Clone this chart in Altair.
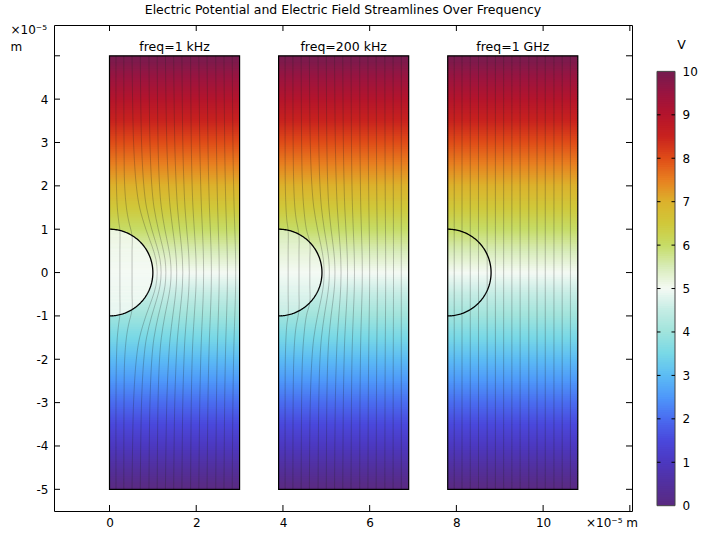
import altair as alt
import numpy as np
import pandas as pd

# ---------------- data ----------------
chart_title = "Electric Potential and Electric Field Streamlines Over Frequency"
panel_titles = ["freq=1 kHz", "freq=200 kHz", "freq=1 GHz"]
panel_left = [0.0, 3.9, 7.8]          # x of each domain's left edge (1e-5 m)
panel_width = 3.0
panel_bottom, panel_top = -5.0, 5.0
# potential inside the sphere (V) at its top and bottom
sphere_V_top = [5.05, 5.45, 6.0]
sphere_V_bottom = [4.95, 4.55, 4.0]

# colour table (V -> colour)
cmap_V = [0, 0.5, 1, 1.5, 2, 2.5, 3, 3.5, 4, 4.5, 5, 5.5, 6, 6.5, 7, 7.5, 8, 8.5, 9, 9.5, 10]
cmap_colors = ["#5a2a80", "#52309e", "#4c38c0", "#4a48dc", "#4a6cf0", "#4e98fa",
               "#5cbcf4", "#78d8e6", "#a0e4dc", "#c4ece4", "#f4faf4", "#d8ecb8",
               "#c6dc66", "#d0c83a", "#dcb22c", "#e88020", "#e04c18", "#c8221e",
               "#b4142c", "#9a1440", "#741c50"]

x_tick_values = [0, 2, 4, 6, 8, 10, 12]
x_label_values = [0, 2, 4, 6, 8, 10]
y_tick_values = [-5, -4, -3, -2, -1, 0, 1, 2, 3, 4, 5]
y_label_values = [-5, -4, -3, -2, -1, 0, 1, 2, 3, 4]
cbar_tick_values = [1, 2, 3, 4, 5, 6, 7, 8, 9]
cbar_label_values = [0, 1, 2, 3, 4, 5, 6, 7, 8, 9, 10]

# streamlines: x (relative to the domain's left edge) at these heights (upper half, mirrored below)
stream_y_levels = [5.0, 3.0, 2.0, 1.5, 1.0, 0.6, 0.3, 0.0]
stream_far_x = [0.15, 0.33, 0.52, 0.71, 0.91, 1.10, 1.29, 1.48, 1.67, 1.87, 2.06, 2.25, 2.45, 2.64, 2.83]

p1_enter_y = [[5.0, 3.0, 2.0, 1.5, 1.2, 0.97, 0.5, 0.0],
              [5.0, 3.0, 2.0, 1.5, 1.2, 0.85, 0.5, 0.0]]
p1_enter_x = [[0.15, 0.15, 0.16, 0.18, 0.21, 0.24, 0.24, 0.24],
              [0.33, 0.335, 0.35, 0.39, 0.44, 0.52, 0.52, 0.52]]
p1_around_x = [
    [0.52, 0.555, 0.619, 0.694, 0.839, 0.984, 1.071, 1.10],
    [0.71, 0.739, 0.792, 0.854, 0.974, 1.094, 1.166, 1.19],
    [0.91, 0.933, 0.976, 1.027, 1.125, 1.222, 1.281, 1.30],
    [1.10, 1.119, 1.154, 1.196, 1.276, 1.356, 1.404, 1.42],
    [1.29, 1.321, 1.363, 1.399, 1.459, 1.511, 1.540, 1.55],
    [1.48, 1.505, 1.539, 1.568, 1.617, 1.659, 1.682, 1.69],
    [1.67, 1.690, 1.718, 1.741, 1.780, 1.815, 1.833, 1.84],
    [1.87, 1.886, 1.906, 1.925, 1.955, 1.980, 1.995, 2.00],
    [2.06, 2.082, 2.104, 2.120, 2.142, 2.159, 2.167, 2.17],
    [2.25, 2.270, 2.290, 2.305, 2.325, 2.340, 2.347, 2.35],
    [2.45, 2.466, 2.482, 2.494, 2.510, 2.522, 2.528, 2.53],
    [2.64, 2.656, 2.672, 2.684, 2.700, 2.712, 2.718, 2.72],
    [2.83, 2.846, 2.862, 2.874, 2.890, 2.902, 2.908, 2.91],
]
p2_enter_y = [[5.0, 3.0, 2.0, 1.5, 1.2, 0.975, 0.5, 0.0],
              [5.0, 3.0, 2.0, 1.5, 1.2, 0.88, 0.5, 0.0],
              [5.0, 3.0, 2.0, 1.5, 1.0, 0.69, 0.3, 0.0]]
p2_enter_x = [[0.15, 0.15, 0.155, 0.17, 0.19, 0.22, 0.22, 0.22],
              [0.33, 0.335, 0.35, 0.375, 0.41, 0.47, 0.47, 0.47],
              [0.52, 0.53, 0.55, 0.58, 0.64, 0.72, 0.72, 0.72]]
p2_around_x = [
    [0.71, 0.730, 0.768, 0.812, 0.897, 0.982, 1.033, 1.05],
    [0.91, 0.926, 0.954, 0.988, 1.053, 1.118, 1.157, 1.17],
    [1.10, 1.112, 1.134, 1.160, 1.210, 1.260, 1.290, 1.30],
    [1.29, 1.308, 1.332, 1.353, 1.388, 1.418, 1.434, 1.44],
    [1.48, 1.493, 1.511, 1.526, 1.552, 1.574, 1.586, 1.59],
    [1.67, 1.680, 1.692, 1.704, 1.722, 1.738, 1.747, 1.75],
    [1.87, 1.877, 1.887, 1.895, 1.909, 1.921, 1.928, 1.93],
    [2.06, 2.068, 2.076, 2.082, 2.090, 2.096, 2.099, 2.10],
    [2.25, 2.256, 2.262, 2.267, 2.273, 2.277, 2.279, 2.28],
    [2.45, 2.454, 2.458, 2.461, 2.465, 2.468, 2.469, 2.47],
    [2.64, 2.642, 2.644, 2.646, 2.648, 2.649, 2.650, 2.65],
    [2.83, 2.830, 2.830, 2.830, 2.830, 2.830, 2.830, 2.83],
]

# ---------------- tables built from the data ----------------
stream_rows = []


def add_line(panel, lid, ys_upper, xs_upper):
    pts = list(zip(xs_upper, ys_upper))
    lower = [(x, -y) for x, y in reversed(pts[:-1])]
    for i, (x, y) in enumerate(pts + lower):
        stream_rows.append({"line": f"{panel}-{lid}", "x": panel_left[panel] + x, "y": y, "i": i})


for k in range(len(p1_enter_x)):
    add_line(0, f"e{k}", p1_enter_y[k], p1_enter_x[k])
for k, xs_ in enumerate(p1_around_x):
    add_line(0, f"a{k}", stream_y_levels, xs_)
for k in range(len(p2_enter_x)):
    add_line(1, f"e{k}", p2_enter_y[k], p2_enter_x[k])
for k, xs_ in enumerate(p2_around_x):
    add_line(1, f"a{k}", stream_y_levels, xs_)
for k, x0 in enumerate(stream_far_x):
    add_line(2, f"s{k}", [5.0, 0.0], [x0, x0])
stream_df = pd.DataFrame(stream_rows)

# background potential strips (uniform field 0 V at bottom, 10 V at top)
step = 0.05
bg_rows = []
for pl in panel_left:
    for y in np.arange(panel_bottom, panel_top - 1e-9, step):
        bg_rows.append({"x1": pl, "x2": pl + panel_width, "y1": y,
                        "y2": min(y + step * 1.6, panel_top), "V": 5.0 + y + step / 2})
bg_df = pd.DataFrame(bg_rows)

# sphere interior strips
s_step = 0.01
sp_rows = []
for p, pl in enumerate(panel_left):
    for y in np.arange(-1.0, 1.0 - 1e-9, s_step):
        ym = y + s_step / 2
        w = float(np.sqrt(max(1.0 - ym * ym, 0.0)))
        V = sphere_V_bottom[p] + (sphere_V_top[p] - sphere_V_bottom[p]) * (ym + 1) / 2
        sp_rows.append({"x1": pl, "x2": pl + w, "y1": y, "y2": min(y + s_step * 1.6, 1.0), "V": V})
sp_df = pd.DataFrame(sp_rows)

# sphere outline (semicircle, radius 1)
ang = np.linspace(-np.pi / 2, np.pi / 2, 121)
ol_rows = []
for p, pl in enumerate(panel_left):
    for i, a in enumerate(ang):
        ol_rows.append({"panel": p, "i": i, "x": pl + float(np.cos(a)), "y": float(np.sin(a))})
ol_df = pd.DataFrame(ol_rows)

frame_df = pd.DataFrame({
    "x1": panel_left,
    "x2": [p + panel_width for p in panel_left],
    "xc": [p + panel_width / 2 for p in panel_left],
    "y1": [panel_bottom] * 3,
    "y2": [panel_top] * 3,
    "title": panel_titles,
})

# ---------------- chart ----------------
W, H = 578, 486
FONT = "DejaVu Sans"
xs = alt.Scale(domain=[-1.28, 12.05], nice=False, zero=False)
ys = alt.Scale(domain=[-5.50, 5.71], nice=False, zero=False)
cs = alt.Scale(domain=cmap_V, range=cmap_colors, interpolate="rgb")

x_axis = alt.Axis(values=x_label_values, ticks=False, tickSize=0, domain=False, grid=False,
                  labelPadding=6, labelFontSize=12, labelFont=FONT, labelColor="black",
                  labelOverlap=False, title=None)
y_axis = alt.Axis(values=y_label_values, ticks=False, tickSize=0, domain=False, grid=False,
                  labelPadding=6, labelFontSize=12, labelFont=FONT, labelColor="black",
                  labelOverlap=False, title=None,
                  labelExpr="datum.value < 0 ? '-' + (-datum.value) : '' + datum.value")


def X(f):
    return alt.X(f, scale=xs, axis=x_axis)


def Y(f):
    return alt.Y(f, scale=ys, axis=y_axis)


bg_layer = alt.Chart(bg_df).mark_rect(strokeWidth=0).encode(
    x=X("x1:Q"), x2="x2:Q", y=Y("y1:Q"), y2="y2:Q",
    color=alt.Color("V:Q", scale=cs, legend=None))

sp_layer = alt.Chart(sp_df).mark_rect(strokeWidth=0).encode(
    x=X("x1:Q"), x2="x2:Q", y=Y("y1:Q"), y2="y2:Q",
    color=alt.Color("V:Q", scale=cs, legend=None))

stream_layer = alt.Chart(stream_df).mark_line(
    interpolate="catmull-rom", color="#1e1e1e", strokeWidth=0.85, opacity=0.3
).encode(x=X("x:Q"), y=Y("y:Q"), detail="line:N", order="i:Q")

outline_layer = alt.Chart(ol_df).mark_line(color="black", strokeWidth=1.3).encode(
    x=X("x:Q"), y=Y("y:Q"), detail="panel:N", order="i:Q")

frame_layer = alt.Chart(frame_df).mark_rect(fill="transparent", stroke="black", strokeWidth=1.2).encode(
    x=X("x1:Q"), x2="x2:Q", y=Y("y1:Q"), y2="y2:Q")

ptitle_layer = alt.Chart(frame_df).mark_text(
    baseline="alphabetic", dy=-5, fontSize=12.5, font=FONT, color="black"
).encode(x=X("xc:Q"), y=Y("y2:Q"), text="title:N")

xt_df = pd.DataFrame({"x": x_tick_values})
yt_df = pd.DataFrame({"y": y_tick_values})
TL = 6
xt_bottom = alt.Chart(xt_df).mark_rule(color="black", strokeWidth=1).encode(
    x=X("x:Q"), y=alt.value(H), y2=alt.value(H - TL))
xt_top = alt.Chart(xt_df).mark_rule(color="black", strokeWidth=1).encode(
    x=X("x:Q"), y=alt.value(0), y2=alt.value(TL))
yt_left = alt.Chart(yt_df).mark_rule(color="black", strokeWidth=1).encode(
    y=Y("y:Q"), x=alt.value(0), x2=alt.value(TL))
yt_right = alt.Chart(yt_df).mark_rule(color="black", strokeWidth=1).encode(
    y=Y("y:Q"), x=alt.value(W), x2=alt.value(W - TL))

unit_df = pd.DataFrame({"t": [0]})
unit_y1 = alt.Chart(unit_df).mark_text(text="×10⁻⁵", align="left", baseline="alphabetic",
                                        fontSize=12, font=FONT, color="black").encode(
    x=alt.value(-43.5), y=alt.value(8.5))
unit_y2 = alt.Chart(unit_df).mark_text(text="m", align="left", baseline="alphabetic",
                                        fontSize=12, font=FONT, color="black").encode(
    x=alt.value(-43.5), y=alt.value(25.5))
unit_x = alt.Chart(unit_df).mark_text(text="×10⁻⁵ m", align="left", baseline="alphabetic",
                                       fontSize=12, font=FONT, color="black").encode(
    x=alt.value(532), y=alt.value(502))

main = alt.layer(
    bg_layer, sp_layer, stream_layer, outline_layer, frame_layer, ptitle_layer,
    xt_bottom, xt_top, yt_left, yt_right, unit_y1, unit_y2, unit_x
).properties(
    width=W, height=H,
    title=alt.TitleParams(text=chart_title, fontSize=12.5, font=FONT, fontWeight="normal",
                          anchor="middle", offset=7, color="black"),
    view=alt.ViewBackground(stroke="black", strokeWidth=1),
)

# ---------------- colour bar ----------------
# plot area of the bar panel is aligned with the main plot area (same top, same height)
CBW, CBH = 18, 486
cb_scale = alt.Scale(domain=[-0.122, 11.068], nice=False, zero=False)
cb_axis = alt.Axis(orient="right", values=cbar_label_values, ticks=False, tickSize=0,
                   domain=False, grid=False, labelPadding=7, labelFontSize=12, labelFont=FONT,
                   labelColor="black", labelOverlap=False,
                   title="V", titleAngle=0, titleX=6, titleY=19, titleAlign="center",
                   titleBaseline="middle", titleFontSize=12.5, titleFontWeight="normal",
                   titleFont=FONT, titleColor="black")
cb_step = 0.05
cb_v = np.arange(0, 10 - 1e-9, cb_step)
cb_df = pd.DataFrame({"v1": cb_v, "v2": np.minimum(cb_v + cb_step * 1.6, 10), "vm": cb_v + cb_step / 2})

cb_strips = alt.Chart(cb_df).mark_rect(strokeWidth=0).encode(
    x=alt.value(0), x2=alt.value(CBW),
    y=alt.Y("v1:Q", scale=cb_scale, axis=cb_axis), y2="v2:Q",
    color=alt.Color("vm:Q", scale=cs, legend=None))
cb_border = alt.Chart(pd.DataFrame({"a": [0], "b": [10]})).mark_rect(
    fill="transparent", stroke="#444444", strokeWidth=1).encode(
    x=alt.value(0), x2=alt.value(CBW), y=alt.Y("a:Q", scale=cb_scale, axis=cb_axis), y2="b:Q")
cbt_df = pd.DataFrame({"v": cbar_tick_values})
cb_tl = alt.Chart(cbt_df).mark_rule(color="black", strokeWidth=1).encode(
    y=alt.Y("v:Q", scale=cb_scale, axis=cb_axis), x=alt.value(0), x2=alt.value(3.5))
cb_tr = alt.Chart(cbt_df).mark_rule(color="black", strokeWidth=1).encode(
    y=alt.Y("v:Q", scale=cb_scale, axis=cb_axis), x=alt.value(CBW - 3.5), x2=alt.value(CBW))

colorbar = alt.layer(cb_strips, cb_border, cb_tl, cb_tr).properties(
    width=CBW, height=CBH, view=alt.ViewBackground(stroke="transparent"))

chart = alt.hconcat(main, colorbar, spacing=17).resolve_scale(
    x="independent", y="independent", color="independent"
).configure(
    padding={"left": 10, "top": 3, "right": 0, "bottom": 0}, background="white"
)

chart.save("out.html", embed_options={"renderer": "svg", "actions": False})
